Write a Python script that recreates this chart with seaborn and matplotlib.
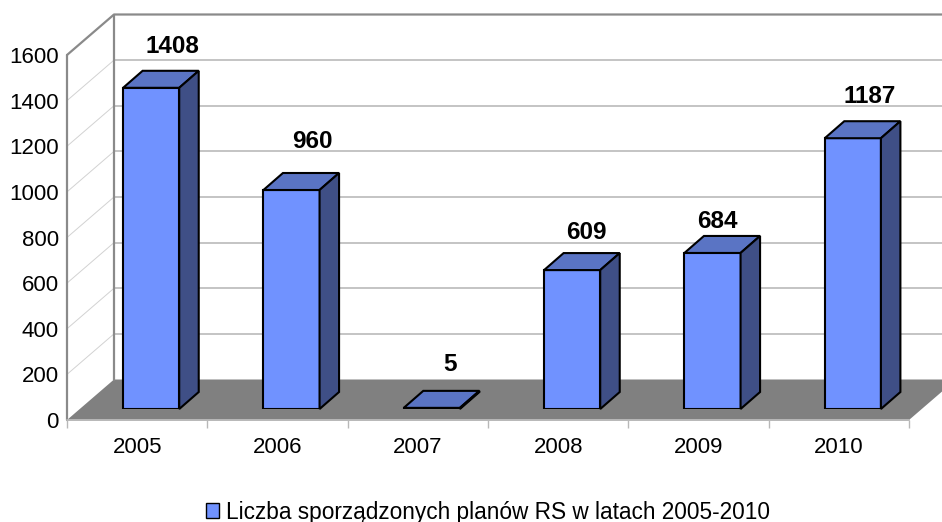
import matplotlib
matplotlib.use('Agg')
import matplotlib.pyplot as plt
from matplotlib.patches import Polygon
import pandas as pd
import seaborn as sns

years = ['2005', '2006', '2007', '2008', '2009', '2010']
plans = [1408, 960, 5, 609, 684, 1187]
series_name = 'Liczba sporządzonych planów RS w latach 2005-2010'
y_ticks = [0, 200, 400, 600, 800, 1000, 1200, 1400, 1600]

sns.set_theme(style='white')
plt.rcParams['font.family'] = ['Liberation Sans', 'DejaVu Sans']

W, H = 942, 522
PX_CAT = 842 / 6
PX_VAL = 365 / 1600


def px_rect(left, top, right, bottom):
    return [left / W, (H - bottom) / H, (right - left) / W, (bottom - top) / H]


df = pd.DataFrame({'year': years, 'plans': plans})

fig = plt.figure(figsize=(W / 100, H / 100), dpi=100)
ax = fig.add_axes(px_rect(67, 55, 909, 420))
ax.set_xlim(-0.5, 5.5)
ax.set_ylim(0, 1600)
for s in ax.spines.values():
    s.set_visible(False)

# walls and floor of the fake 3d box
wall_dx = 47 / PX_CAT
wall_dy = 40.5 / PX_VAL
x0, x1 = -0.5, 5.5
far = x1 + 1
ax.add_patch(Polygon([(x0, 0), (x1, 0), (x1 + wall_dx, wall_dy), (x0 + wall_dx, wall_dy)],
                     closed=True, fc='#808080', ec='none', clip_on=False, zorder=1))
for v in y_ticks[1:-1]:
    ax.plot([x0, x0 + wall_dx], [v, v + wall_dy], color='#d2d2d2', lw=0.7, clip_on=False, zorder=1)
    ax.plot([x0 + wall_dx, far], [v + wall_dy, v + wall_dy], color='#b4b4b4', lw=1.1, clip_on=False, zorder=1)
grey = '#8a8a8a'
ax.plot([x0, x0], [0, 1600], color=grey, lw=1.6, clip_on=False, zorder=2)
ax.plot([x0 + wall_dx, x0 + wall_dx], [wall_dy, 1600 + wall_dy], color=grey, lw=1.6, clip_on=False, zorder=2)
ax.plot([x0, x0 + wall_dx, far], [1600, 1600 + wall_dy, 1600 + wall_dy], color=grey, lw=1.6,
        clip_on=False, zorder=2)
ax.plot([x0, x1], [0, 0], color='#b8b8b8', lw=1.4, clip_on=False, zorder=2)

ax.set_yticks(y_ticks)
ax.set_yticklabels([str(v) for v in y_ticks], fontsize=16, color='black')
ax.tick_params(axis='y', length=0, pad=6)
ax.set_xticks([i - 0.5 for i in range(7)])
ax.set_xticklabels([])
ax.set_xticks(range(6), years, minor=True, fontsize=16, color='black')
ax.tick_params(axis='x', which='major', length=6, width=1, color='#b8b8b8', bottom=True)
ax.tick_params(axis='x', which='minor', length=0, pad=12)

# bars sit a bit deeper in the box than the front plane
ax_bars = fig.add_axes(px_rect(67 + 14, 55 - 11, 909 + 14, 420 - 11))
ax_bars.patch.set_alpha(0)
sns.barplot(data=df, x='year', y='plans', width=0.4, color='#7092ff', saturation=1,
            edgecolor='black', linewidth=1.5, label=series_name, ax=ax_bars, zorder=4)
ax_bars.set_xlim(-0.5, 5.5)
ax_bars.set_ylim(0, 1600)
ax_bars.axis('off')

bar_dx = 19.5 / PX_CAT
bar_dy = 17 / PX_VAL
# label nudges in pixels, the labels are not evenly placed in the original
label_dx = [21, 21, 18, 14, 5, 17]
label_dy = [41, 48, 43, 38, 31, 42]
for p, val, ldx, ldy in zip(ax_bars.patches, plans, label_dx, label_dy):
    l, r, h = p.get_x(), p.get_x() + p.get_width(), p.get_height()
    ax_bars.add_patch(Polygon([(l, h), (r, h), (r + bar_dx, h + bar_dy), (l + bar_dx, h + bar_dy)],
                              closed=True, fc='#5a74c4', ec='black', lw=1.5, clip_on=False, zorder=5))
    ax_bars.add_patch(Polygon([(r, 0), (r + bar_dx, bar_dy), (r + bar_dx, h + bar_dy), (r, h)],
                              closed=True, fc='#3f4f86', ec='black', lw=1.5, clip_on=False, zorder=5))
    ax_bars.annotate(str(val), xy=((l + r) / 2, h), xytext=(ldx, ldy), textcoords='offset pixels',
                     ha='center', va='center', fontsize=17.5, fontweight='bold', color='black', zorder=6)

leg = ax_bars.legend(loc='center', bbox_to_anchor=(488 / W, (H - 512) / H), bbox_transform=fig.transFigure,
                     frameon=False, fontsize=16.25, handlelength=0.6, handleheight=0.6, handletextpad=0.32,
                     borderpad=0, borderaxespad=0, labelcolor='black')
for h in leg.get_patches():
    h.set_linewidth(1)

fig.savefig('out.png', dpi=100)
